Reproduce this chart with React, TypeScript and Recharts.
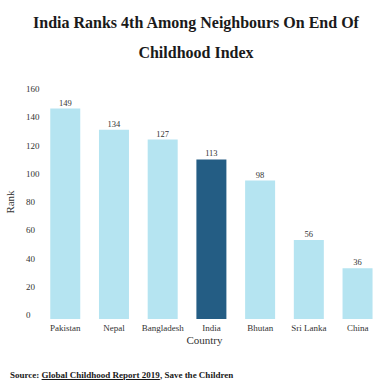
import React from "react";
import { BarChart, Bar, XAxis, YAxis, Cell, LabelList, Label } from "recharts";

const countries = ["Pakistan", "Nepal", "Bangladesh", "India", "Bhutan", "Sri Lanka", "China"];
const ranks = [149, 134, 127, 113, 98, 56, 36];
const highlight = "India";
const yTicks = [0, 20, 40, 60, 80, 100, 120, 140, 160];

const data = countries.map((c, i) => ({ country: c, rank: ranks[i] }));

const LIGHT = "#b5e4f1";
const DARK = "#245d84";
const serif = "'Liberation Serif', 'DejaVu Serif', serif";

// tick labels sit a few px above their value line, as in the source chart
const YTick = (props: any) => {
  const { y, payload } = props;
  return (
    <text x={26} y={y} dy={-1} textAnchor="start" fontSize={9} fontFamily={serif} fill="#333">
      {payload.value}
    </text>
  );
};

export default function App() {
  return (
    <div style={{ position: "absolute", left: 0, top: 0, width: 382, height: 392, background: "#fff", fontFamily: serif }}>
      <div
        style={{
          position: "absolute",
          top: 8,
          left: 0,
          width: 392,
          textAlign: "center",
          fontWeight: 700,
          fontSize: 16,
          lineHeight: "30px",
          color: "#1a1a1a",
        }}
      >
        India Ranks 4th Among Neighbours On End Of
        <br />
        Childhood Index
      </div>
      <BarChart
        width={382}
        height={392}
        data={data}
        margin={{ top: 93, right: 0, bottom: 43, left: 0 }}
        barCategoryGap="19%"
      >
        <XAxis
          dataKey="country"
          axisLine={false}
          tickLine={false}
          height={30}
          tick={{ fontSize: 9, fontFamily: serif, fill: "#333" }}
          tickMargin={0}
          interval={0}
        >
          <Label value="Country" position="insideBottom" offset={5} dx={-7} fontSize={11} fontFamily={serif} fill="#333" />
        </XAxis>
        <YAxis
          width={41}
          domain={[0, 160]}
          ticks={yTicks}
          axisLine={false}
          tickLine={false}
          tick={<YTick />}
        >
          <Label value="Rank" angle={-90} position="insideLeft" offset={10} dy={-4} fontSize={11} fontFamily={serif} fill="#333" style={{ textAnchor: "middle" }} />
        </YAxis>
        <Bar dataKey="rank" isAnimationActive={false}>
          {data.map((d) => (
            <Cell key={d.country} fill={d.country === highlight ? DARK : LIGHT} />
          ))}
          <LabelList dataKey="rank" position="top" offset={3} fontSize={8.5} fontFamily={serif} fill="#333" />
        </Bar>
      </BarChart>
      <div style={{ position: "absolute", left: 10, top: 370, fontSize: 9, fontWeight: 700, color: "#1a1a1a" }}>
        Source: <span style={{ textDecoration: "underline" }}>Global Childhood Report 2019</span>, Save the Children
      </div>
    </div>
  );
}
